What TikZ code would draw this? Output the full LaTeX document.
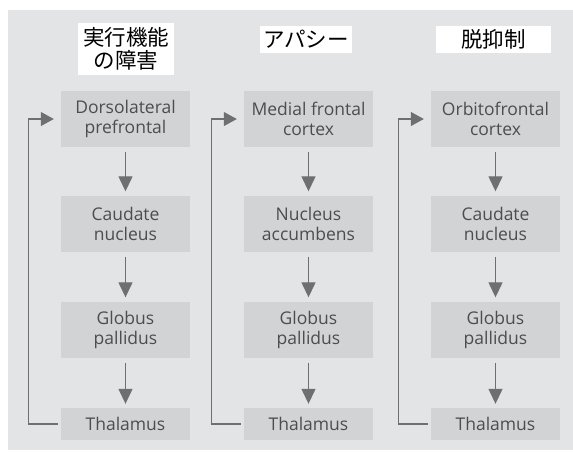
\documentclass[tikz,border=0pt]{standalone}
\usepackage{fontspec}
\setmainfont{Open Sans}
\newfontfamily\jpfont{Noto Sans CJK JP}
\usetikzlibrary{arrows.meta}
\definecolor{bggray}{HTML}{E3E4E5}
\definecolor{boxgray}{HTML}{D2D3D5}
\definecolor{txtgray}{HTML}{4D4D4F}
\definecolor{linegray}{HTML}{6E6F71}
\begin{document}
\begin{tikzpicture}[x=1pt,y=-1pt,
  brainbox/.style={fill=boxgray, minimum width=129pt, minimum height=56pt, align=center,
    inner sep=0pt, text=txtgray, font=\fontsize{17.5}{20}\selectfont},
  thalbox/.style={brainbox, minimum height=32pt},
  titlebox/.style={fill=white, inner sep=0pt, align=center, text=black,
    font=\jpfont\fontsize{21.5}{23}\selectfont},
  downarrow/.style={draw=linegray, line width=1.3pt, shorten <=5pt, shorten >=4pt,
    -{Triangle[width=14pt,length=15pt]}},
  fbarrow/.style={draw=linegray, line width=1.1pt, shorten <=3pt, shorten >=7pt,
    -{Triangle[width=14pt,length=13pt]}}
]
\useasboundingbox (0,0) rectangle (573,451);
\fill[bggray] (8,10) rectangle (573,450);

% titles
\node[titlebox, minimum width=96pt, minimum height=52pt] (t1) at (126,49) {実行機能\\の障害};
\node[titlebox, minimum width=92pt, minimum height=27pt] (t2) at (306,39.5) {アパシー};
\node[titlebox, minimum width=115pt, minimum height=27pt] (t3) at (493.5,39.5) {脱抑制};

% column 1
\node[brainbox] (a1) at (125.5,119) {Dorsolateral\\prefrontal};
\node[brainbox] (a2) at (125.5,223.5) {Caudate\\nucleus};
\node[brainbox] (a3) at (125.5,329.5) {Globus\\pallidus};
\node[thalbox] (a4) at (125.5,424) {Thalamus};
% column 2
\node[brainbox] (b1) at (308.5,119) {Medial frontal\\cortex};
\node[brainbox] (b2) at (308.5,223.5) {Nucleus\\accumbens};
\node[brainbox] (b3) at (308.5,329.5) {Globus\\pallidus};
\node[thalbox] (b4) at (308.5,424) {Thalamus};
% column 3
\node[brainbox] (c1) at (495.5,119) {Orbitofrontal\\cortex};
\node[brainbox] (c2) at (495.5,223.5) {Caudate\\nucleus};
\node[brainbox] (c3) at (495.5,329.5) {Globus\\pallidus};
\node[thalbox] (c4) at (495.5,424) {Thalamus};

\foreach \c in {a,b,c}{
  \draw[downarrow] (\c1) -- (\c2);
  \draw[downarrow] (\c2) -- (\c3);
  \draw[downarrow] (\c3) -- (\c4);
  \draw[fbarrow] (\c4.west) -- ++(-32.5,0) |- (\c1.west);
}
\end{tikzpicture}
\end{document}
